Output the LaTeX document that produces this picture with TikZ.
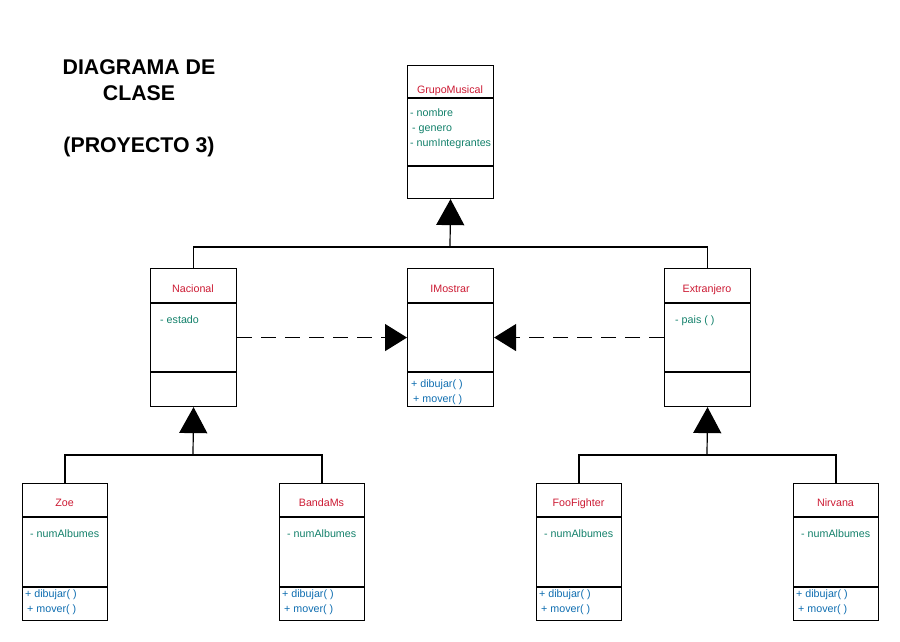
\documentclass[tikz,border=0pt]{standalone}
\usepackage{fontspec}
\setmainfont{Liberation Sans}
\usetikzlibrary{arrows.meta}
\definecolor{cname}{HTML}{CC1A33}
\definecolor{cattr}{HTML}{12806A}
\definecolor{cmeth}{HTML}{0E6DB0}
\begin{document}
\begin{tikzpicture}[x=1pt,y=-1pt,
  box/.style={draw, line width=1.1pt, minimum width=86pt, minimum height=138pt, inner sep=0pt, anchor=north west},
  sep/.style={line width=1.1pt},
  txt/.style={font=\fontsize{10.7}{12}\selectfont, inner sep=0pt, text height=8pt, text depth=2.4pt, yshift=-1.3pt},
  cls/.style={txt, text=cname},
  attr/.style={txt, text=cattr, anchor=west},
  meth/.style={txt, text=cmeth, anchor=west},
  conn/.style={line width=1.2pt},
  inh/.style={line width=1.2pt, -{Triangle[width=28pt,length=26pt]}},
  real/.style={line width=1.2pt, dash pattern=on 15pt off 9pt, -{Triangle[width=27pt,length=22pt]}},
  title/.style={font=\fontsize{21.3}{26}\selectfont\bfseries, align=center, inner sep=0pt}]
\useasboundingbox (0,0) rectangle (900,642);

% title
\node[title] (ttl) at (139,108.5) {DIAGRAMA DE\\CLASE\\[26pt](PROYECTO 3)};

% GrupoMusical
\node[box, minimum height=133pt] (gm) at (407,65) {};
\draw[sep] (gm.west |- 0,98) -- (gm.east |- 0,98);
\draw[sep] (gm.west |- 0,166) -- (gm.east |- 0,166);
\node[cls] (gmT) at (450,89.5) {GrupoMusical};
\node[attr] (gmA1) at (410,112.5) {- nombre};
\node[attr] (gmA2) at (412,127.5) {- genero};
\node[attr] (gmA3) at (410,142.5) {- numIntegrantes};

% Nacional
\node[box] (nac) at (150,268) {};
\draw[sep] (nac.west |- 0,303) -- (nac.east |- 0,303);
\draw[sep] (nac.west |- 0,372) -- (nac.east |- 0,372);
\node[cls] (nacT) at (193,288.5) {Nacional};
\node[attr] (nacA) at (160,319.5) {- estado};

% IMostrar
\node[box] (im) at (407,268) {};
\draw[sep] (im.west |- 0,303) -- (im.east |- 0,303);
\draw[sep] (im.west |- 0,372) -- (im.east |- 0,372);
\node[cls] (imT) at (450,288.5) {IMostrar};
\node[meth] (imM1) at (411,383.5) {+ dibujar( )};
\node[meth] (imM2) at (413,398.5) {+ mover( )};

% Extranjero
\node[box] (ext) at (664,268) {};
\draw[sep] (ext.west |- 0,303) -- (ext.east |- 0,303);
\draw[sep] (ext.west |- 0,372) -- (ext.east |- 0,372);
\node[cls] (extT) at (707,288.5) {Extranjero};
\node[attr] (extA) at (675,319.5) {- pais ( )};

% leaf classes
\foreach \nm/\x/\lab in {zoe/22/Zoe, bms/279/BandaMs, foo/536/FooFighter, nir/793/Nirvana}{
  \node[box, minimum width=85pt, minimum height=137pt] (\nm) at (\x,483) {};
  \draw[sep] (\nm.west |- 0,517) -- (\nm.east |- 0,517);
  \draw[sep] (\nm.west |- 0,587) -- (\nm.east |- 0,587);
  \node[cls] (\nm T) at (\x+42.5,502.5) {\lab};
  \node[attr] (\nm A) at (\x+8,533.5) {- numAlbumes};
  \node[meth] (\nm M1) at (\x+3,593.5) {+ dibujar( )};
  \node[meth] (\nm M2) at (\x+5,608.5) {+ mover( )};
}

% generalization GrupoMusical
\coordinate (j1) at (450,247);
\draw[conn] (nac.north) |- (j1) -| (ext.north);
\draw[inh] (j1) -- (gm.south);

% generalization Nacional
\coordinate (j2) at (193,455);
\draw[conn] (zoe.north) |- (j2) -| (bms.north);
\draw[inh] (j2) -- (nac.south);

% generalization Extranjero
\coordinate (j3) at (707,455);
\draw[conn] (foo.north) |- (j3) -| (nir.north);
\draw[inh] (j3) -- (ext.south);

% realizations
\draw[real] (nac.east) -- (im.west);
\draw[real] (ext.west) -- (im.east);
\end{tikzpicture}
\end{document}
